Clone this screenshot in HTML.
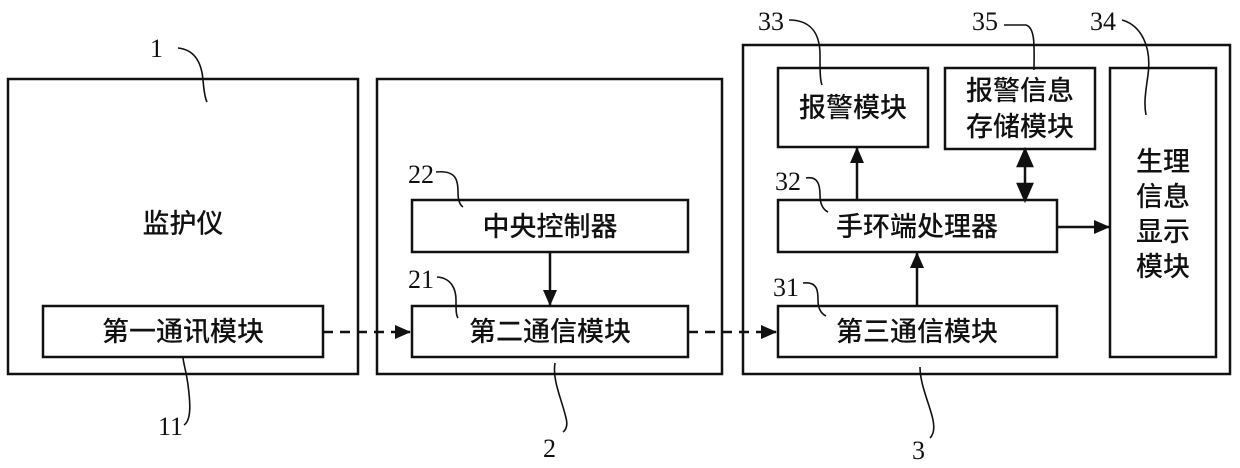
<!DOCTYPE html>
<html><head><meta charset="utf-8"><style>
html,body{margin:0;padding:0;background:#fff;width:1240px;height:468px;overflow:hidden}
text{font-family:"Liberation Serif","Noto Serif CJK SC",serif;font-weight:normal;fill:#111}
.c{font-family:"Liberation Sans","Noto Sans CJK SC",sans-serif;font-size:27px;font-weight:500}
</style></head><body>
<svg width="1240" height="468" xmlns="http://www.w3.org/2000/svg">
<defs>
<marker id="b" markerWidth="16" markerHeight="14" refX="15" refY="7" orient="auto" markerUnits="userSpaceOnUse"><path d="M0,0 L16,7 L0,14 z" fill="#111"/></marker></defs>
<g fill="none" stroke="#111" stroke-width="2.5">
<rect x="8" y="79" width="350" height="295"/>
<rect x="377" y="79" width="345" height="295"/>
<rect x="743" y="45" width="487" height="329"/>
<rect x="43" y="306" width="280" height="51"/>
<rect x="412" y="200" width="276" height="52"/>
<rect x="412" y="306" width="276" height="51"/>
<rect x="778" y="68" width="150" height="79"/>
<rect x="945" y="68" width="150" height="81"/>
<rect x="1110" y="68" width="106" height="289"/>
<rect x="778" y="200" width="279" height="52"/>
<rect x="778" y="306" width="279" height="51"/>
</g>
<g stroke="#111" stroke-width="2.5" fill="none">
<line x1="323" y1="332" x2="410" y2="332" stroke-dasharray="10,7" marker-end="url(#b)"/>
<line x1="688" y1="332" x2="776" y2="332" stroke-dasharray="10,7" marker-end="url(#b)"/>
<line x1="550" y1="252" x2="550" y2="305" marker-end="url(#b)"/>
<line x1="917" y1="306" x2="917" y2="253" marker-end="url(#b)"/>
<line x1="857" y1="200" x2="857" y2="148" marker-end="url(#b)"/>
<line x1="1057" y1="227" x2="1109" y2="227" marker-end="url(#b)"/>
<line x1="1025" y1="198" x2="1025" y2="152"/>
<path d="M1018,166 L1025,150 L1032,166z M1018,184 L1025,200 L1032,184z" fill="#111"/>
</g>
<g stroke="#111" stroke-width="1.6" fill="none">
<path d="M178,48 C198,50 202,68 203,80 C204,92 205,98 207,102"/>
<path d="M184,425 C192,420 190,400 188,385 C186,370 183,362 183,357"/>
<path d="M555,363 C552,380 562,400 566,418 C568,425 566,430 563,432"/>
<path d="M920,367 C920,385 930,405 933,420 C935,430 933,435 930,438"/>
<path d="M789,20 C812,20 820,35 820,55 C820,70 820,80 822,85"/>
<path d="M1004,25 L1026,25 C1036,28 1034,50 1034,70"/>
<path d="M1122,20 C1140,25 1152,45 1148,75 C1145,95 1144,105 1146,115"/>
<path d="M436,172 C456,170 458,180 458,192 C458,200 460,205 463,207"/>
<path d="M437,277 C452,278 456,290 456,300 C456,310 456,315 458,318"/>
<path d="M806,178 C818,176 820,185 820,195 C820,205 824,210 828,212"/>
<path d="M803,283 C818,281 818,292 818,300 C818,310 822,314 826,316"/>
</g>
<g font-size="26">
<text x="150" y="57">1</text>
<text x="158" y="435">11</text>
<text x="543" y="457">2</text>
<text x="912" y="459">3</text>
<text x="758" y="30">33</text>
<text x="972" y="30">35</text>
<text x="1090" y="30">34</text>
<text x="408" y="183">22</text>
<text x="408" y="288">21</text>
<text x="775" y="190">32</text>
<text x="773" y="296">31</text>
</g>
<g text-anchor="middle">
<text class="c" x="183" y="233">监护仪</text>
<text class="c" x="183" y="341">第一通讯模块</text>
<text class="c" x="550" y="236">中央控制器</text>
<text class="c" x="550" y="341">第二通信模块</text>
<text class="c" x="853" y="117">报警模块</text>
<text class="c" x="1020" y="100">报警信息</text>
<text class="c" x="1020" y="136">存储模块</text>
<text class="c" x="917" y="236">手环端处理器</text>
<text class="c" x="917" y="341">第三通信模块</text>
<text class="c" x="1163" y="171">生理</text>
<text class="c" x="1163" y="206">信息</text>
<text class="c" x="1163" y="241">显示</text>
<text class="c" x="1163" y="276">模块</text>
</g>
</svg>
</body></html>
